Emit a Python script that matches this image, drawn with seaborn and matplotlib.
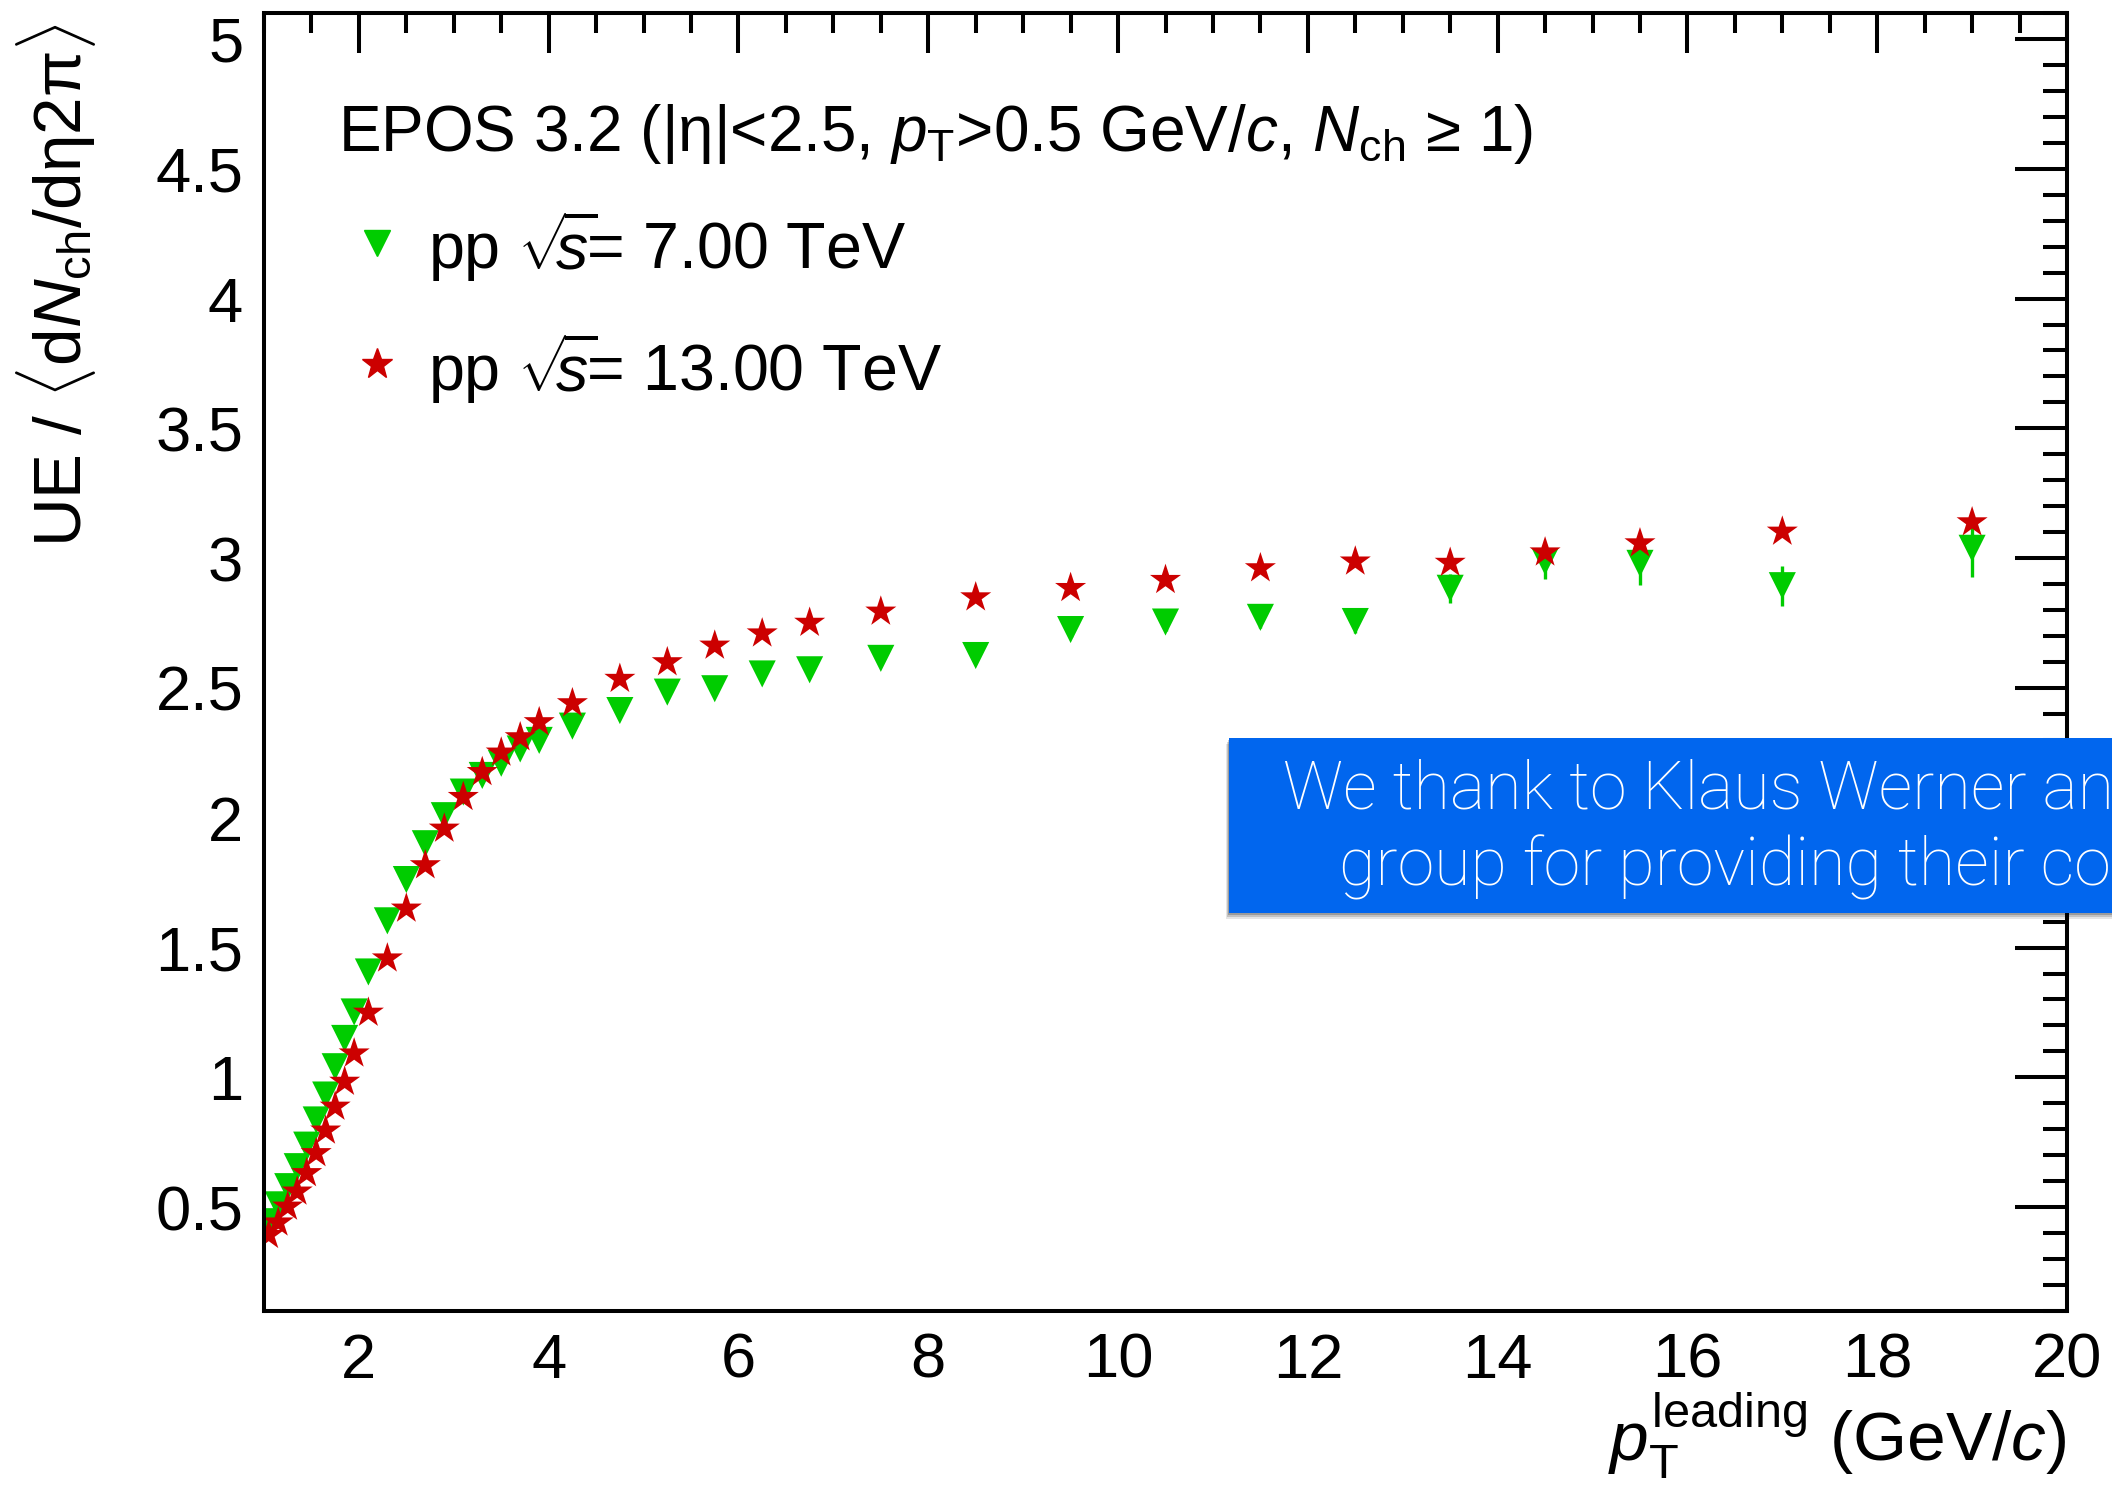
import matplotlib
matplotlib.use("Agg")
import matplotlib.pyplot as plt
from matplotlib.ticker import MultipleLocator, FuncFormatter
from matplotlib.patches import Rectangle
import pandas as pd
import seaborn as sns

# Leading-particle transverse momentum bins (GeV/c)
pt_leading = [1.05, 1.15, 1.25, 1.35, 1.45, 1.55, 1.65, 1.75, 1.85, 1.95,
              2.1, 2.3, 2.5, 2.7, 2.9, 3.1, 3.3, 3.5, 3.7, 3.9,
              4.25, 4.75, 5.25, 5.75, 6.25, 6.75,
              7.5, 8.5, 9.5, 10.5, 11.5, 12.5, 13.5, 14.5, 15.5, 17.0, 19.0]

# Underlying-event density normalised to the mean multiplicity density
ue_7tev = [0.444, 0.509, 0.579, 0.656, 0.739, 0.836, 0.932, 1.041, 1.150, 1.252,
           1.406, 1.603, 1.762, 1.900, 2.008, 2.099, 2.163, 2.210, 2.265, 2.298,
           2.353, 2.413, 2.484, 2.497, 2.554, 2.570,
           2.614, 2.625, 2.725, 2.754, 2.772, 2.756, 2.884, 2.987, 2.980, 2.894, 3.038]
ue_7tev_err = [0.004, 0.004, 0.004, 0.005, 0.005, 0.005, 0.005, 0.006, 0.006, 0.006,
               0.006, 0.007, 0.007, 0.008, 0.008, 0.009, 0.009, 0.010, 0.010, 0.011,
               0.011, 0.012, 0.013, 0.014, 0.015, 0.016,
               0.020, 0.025, 0.030, 0.035, 0.040, 0.045, 0.055, 0.067, 0.083, 0.077, 0.110]
ue_13tev = [0.393, 0.441, 0.502, 0.560, 0.631, 0.708, 0.795, 0.887, 0.983, 1.092,
            1.249, 1.458, 1.650, 1.817, 1.958, 2.080, 2.176, 2.251, 2.310, 2.368,
            2.441, 2.535, 2.599, 2.663, 2.710, 2.751,
            2.794, 2.849, 2.885, 2.916, 2.961, 2.987, 2.982, 3.022, 3.057, 3.102, 3.138]

label_7 = r"pp $\sqrt{\!\!s}\!$= 7.00 TeV"
label_13 = r"pp $\sqrt{\!\!s}\!$= 13.00 TeV"
model_text = r"EPOS 3.2 (|η|<2.5, $p_{\rm T}$>0.5 GeV/$c$, $N_{\rm ch}$ ≥ 1)"
x_title = r"$p_{\rm T}^{\rm leading}$ (GeV/$c$)"
y_title = r"UE / $\langle$d$N_{\rm ch}$/d$\mathrm{\eta}$2$\mathrm{\pi}\rangle$"
note_lines = ["We thank to Klaus Werner and his", "group for providing their code"]

green = "#00CC00"
red = "#CC0000"
note_blue = "#0166EE"

sns.set_theme(style="white")
plt.rcParams["font.family"] = ["Liberation Sans", "DejaVu Sans"]
plt.rcParams["text.color"] = "black"
plt.rcParams["mathtext.fontset"] = "custom"
plt.rcParams["mathtext.rm"] = "Liberation Sans"
plt.rcParams["mathtext.it"] = "Liberation Sans:italic"
plt.rcParams["mathtext.bf"] = "Liberation Sans:bold"
plt.rcParams["mathtext.sf"] = "Liberation Sans"

W, H = 2112, 1492
fig = plt.figure(figsize=(W / 100, H / 100), dpi=100)
fig.patch.set_facecolor("white")
ax = fig.add_axes([264 / W, 1 - 1311 / H, 1803 / W, 1298 / H])

n = len(pt_leading)
df = pd.DataFrame({
    "pt": pt_leading + pt_leading,
    "ue": ue_7tev + ue_13tev,
    "energy": [label_7] * n + [label_13] * n,
})

ax.errorbar(pt_leading, ue_7tev, yerr=ue_7tev_err, fmt="none",
            ecolor=green, elinewidth=2.4, capsize=0, zorder=0.8)
sns.scatterplot(data=df, x="pt", y="ue", hue="energy", style="energy", size="energy",
                palette={label_7: green, label_13: red},
                markers={label_7: "v", label_13: "*"},
                sizes={label_7: 19.5 ** 2, label_13: 23.5 ** 2},
                linewidth=0, legend=False, ax=ax, zorder=2)

ax.set_xlim(1, 20)
ax.set_ylim(0.1, 5.1)
ax.xaxis.set_major_locator(MultipleLocator(2))
ax.xaxis.set_minor_locator(MultipleLocator(0.5))
ax.yaxis.set_major_locator(MultipleLocator(0.5))
ax.yaxis.set_minor_locator(MultipleLocator(0.1))
fmt = FuncFormatter(lambda v, p: f"{v:g}")
ax.xaxis.set_major_formatter(fmt)
ax.yaxis.set_major_formatter(fmt)

for sp in ax.spines.values():
    sp.set_color("black")
    sp.set_linewidth(2.9)
ax.tick_params(which="both", direction="in", top=True, right=True,
               width=2.9, color="black", labelcolor="black", labelsize=45.5)
ax.tick_params(axis="x", which="major", length=29, pad=15)
ax.tick_params(axis="x", which="minor", length=14.5)
ax.tick_params(axis="y", which="major", length=37.5, pad=15)
ax.tick_params(axis="y", which="minor", length=17.5)

ax.set_xlabel(x_title, fontsize=50, color="black", loc="right")
ax.xaxis.set_label_coords(1.0, -0.061)
ax.set_ylabel(y_title, fontsize=48.5, color="black", loc="top")
ax.yaxis.set_label_coords(-0.092, 0.992)

# header and legend entries
ax.text(0.041, 0.8937, model_text, transform=ax.transAxes, fontsize=46,
        va="baseline", color="black")
ax.plot([0.0627], [0.8228], transform=ax.transAxes, marker="v", ms=19,
        color=green, linestyle="none", clip_on=False)
ax.text(0.091, 0.8028, label_7, transform=ax.transAxes, fontsize=46.5,
        va="baseline", color="black")
ax.plot([0.0627], [0.7296], transform=ax.transAxes, marker="*", ms=23,
        color=red, linestyle="none", clip_on=False)
ax.text(0.091, 0.7091, label_13, transform=ax.transAxes, fontsize=46.5,
        va="baseline", color="black")

# acknowledgement banner
bx, by, bh = 1229 / W, 1 - 913 / H, 175 / H
for off, alpha in [(6, 0.10), (4, 0.15), (2, 0.2)]:
    fig.patches.append(Rectangle((bx - off / W * 0.5, by - off / H), 1.0, bh,
                                 transform=fig.transFigure, facecolor="black",
                                 edgecolor="none", alpha=alpha, zorder=1))
fig.patches.append(Rectangle((bx, by), 1.0, bh, transform=fig.transFigure,
                             facecolor=note_blue, edgecolor="none", zorder=1.5))
fig.text(1283 / W, 1 - 810 / H, note_lines[0], color="white", fontsize=47.8,
         family=["Roboto", "DejaVu Sans"], fontweight="light", zorder=3)
fig.text(1339 / W, 1 - 885 / H, note_lines[1], color="white", fontsize=47.8,
         family=["Roboto", "DejaVu Sans"], fontweight="light", zorder=3)

fig.savefig("out.png", dpi=100)
